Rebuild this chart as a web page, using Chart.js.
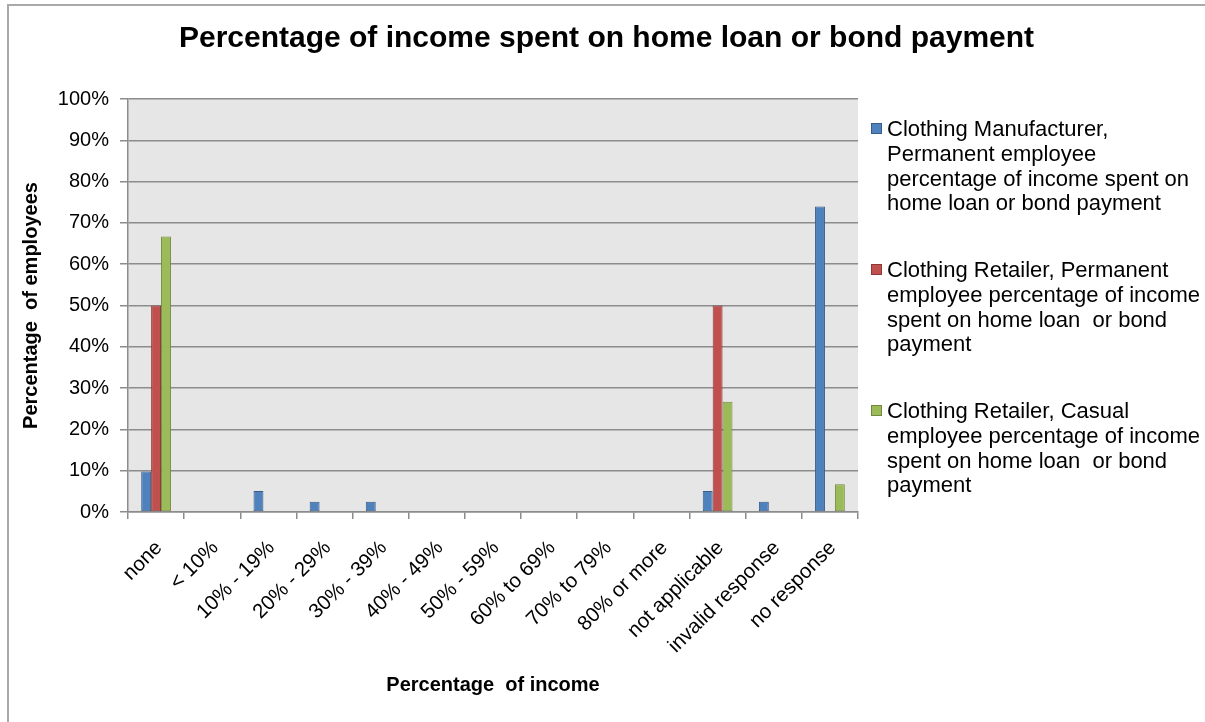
<!DOCTYPE html>
<html lang="en">
<head>
    <meta charset="UTF-8">
    <title>Percentage of income spent on home loan or bond payment</title>
    <script src="https://cdn.jsdelivr.net/npm/chart.js"></script>
    <style>
        html, body {
            margin: 0;
            padding: 0;
            background: #ffffff;
            overflow: hidden;
        }
        .frame {
            position: absolute;
            left: 7px;
            top: 4px;
            width: 1220px;
            height: 740px;
            border: 2px solid #a9a9a9;
        }
        #incomeChart {
            position: absolute;
            left: 0;
            top: 0;
        }
    </style>
</head>
<body>
    <div class="frame"></div>
    <canvas id="incomeChart" width="1205" height="722"></canvas>

    <script>
        // income brackets on the x axis
        const categories = [
            'none', '< 10%', '10% - 19%', '20% - 29%', '30% - 39%', '40% - 49%',
            '50% - 59%', '60% to 69%', '70% to 79%', '80% or more',
            'not applicable', 'invalid response', 'no response'
        ];

        // percentage of employees per bracket
        const manufacturerPermanent = [9.8, 0, 5.1, 2.5, 2.5, 0, 0, 0, 0, 0, 5.1, 2.5, 74];
        const retailerPermanent = [50, 0, 0, 0, 0, 0, 0, 0, 0, 0, 50, 0, 0];
        const retailerCasual = [66.7, 0, 0, 0, 0, 0, 0, 0, 0, 0, 26.7, 0, 6.7];

        // legend text, one entry per line
        const seriesNames = [
            ['Clothing Manufacturer,', 'Permanent employee', 'percentage of income spent on', 'home loan or bond payment'],
            ['Clothing Retailer, Permanent', 'employee percentage of income', 'spent on home loan  or bond', 'payment'],
            ['Clothing Retailer, Casual', 'employee percentage of income', 'spent on home loan  or bond', 'payment']
        ];

        const yTicks = [0, 10, 20, 30, 40, 50, 60, 70, 80, 90, 100];

        const chartTitle = 'Percentage of income spent on home loan or bond payment';

        const FONT = "'Liberation Sans', Arial, sans-serif";
        const gridColor = '#8c8c8c';

        const fills = ['#4f81bd', '#c0504d', '#9bbb59'];
        const edges = ['#385d8a', '#8c3836', '#71893f'];

        // grey plot background
        const plotBackground = {
            id: 'plotBackground',
            beforeDraw(chart) {
                const { ctx, chartArea } = chart;
                ctx.save();
                ctx.fillStyle = '#e6e6e6';
                ctx.fillRect(chartArea.left, chartArea.top,
                    chartArea.right - chartArea.left, chartArea.bottom - chartArea.top);
                ctx.restore();
            }
        };

        // title centred over the whole canvas, not just the plot
        const wideTitle = {
            id: 'wideTitle',
            afterDraw(chart) {
                const { ctx, width } = chart;
                ctx.save();
                ctx.font = 'bold 30px ' + FONT;
                ctx.fillStyle = '#000';
                ctx.textAlign = 'center';
                ctx.textBaseline = 'middle';
                ctx.fillText(chartTitle, width / 2 + 4, 39);
                ctx.restore();
            }
        };

        // legend on the right with wrapped lines
        const sideLegend = {
            id: 'sideLegend',
            afterDraw(chart) {
                const { ctx } = chart;
                const x = 871;
                const lineGap = 24.8;
                ctx.save();
                ctx.font = '22px ' + FONT;
                ctx.textBaseline = 'alphabetic';
                ctx.textAlign = 'left';
                chart.data.datasets.forEach((ds, i) => {
                    const base = 136 + i * 141;
                    ctx.fillStyle = ds.backgroundColor;
                    ctx.strokeStyle = ds.borderColor;
                    ctx.lineWidth = 1;
                    ctx.fillRect(x, base - 13, 11, 11);
                    ctx.strokeRect(x + 0.5, base - 12.5, 10, 10);
                    ctx.fillStyle = '#000';
                    seriesNames[i].forEach((line, j) => {
                        ctx.fillText(line, 887, base + j * lineGap);
                    });
                });
                ctx.restore();
            }
        };

        const ctx = document.getElementById('incomeChart').getContext('2d');
        new Chart(ctx, {
            type: 'bar',
            data: {
                labels: categories,
                datasets: [manufacturerPermanent, retailerPermanent, retailerCasual].map((values, i) => ({
                    label: seriesNames[i].join(' '),
                    data: values,
                    backgroundColor: fills[i],
                    borderColor: edges[i],
                    borderWidth: 1,
                    borderSkipped: false,
                    categoryPercentage: 0.53,
                    barPercentage: 1.0
                }))
            },
            options: {
                responsive: false,
                animation: false,
                layout: {
                    padding: { left: 10, right: 347, top: 99, bottom: 0 }
                },
                plugins: {
                    legend: { display: false },
                    tooltip: { enabled: false },
                    title: { display: false }
                },
                scales: {
                    x: {
                        afterFit(scale) { scale.height = 210; },
                        grid: {
                            display: true,
                            offset: true,
                            drawOnChartArea: false,
                            drawTicks: true,
                            tickLength: 7,
                            color: gridColor,
                            lineWidth: 1.5
                        },
                        border: { display: true, color: gridColor, width: 1.5 },
                        ticks: {
                            autoSkip: false,
                            minRotation: 45,
                            maxRotation: 45,
                            padding: 17,
                            labelOffset: 3,
                            color: '#000',
                            font: { family: FONT, size: 20.5 }
                        },
                        title: {
                            display: true,
                            text: 'Percentage  of income',
                            color: '#000',
                            font: { family: FONT, size: 20, weight: 'bold', lineHeight: 1.2 },
                            padding: { top: 0, bottom: 25 }
                        }
                    },
                    y: {
                        min: 0,
                        max: 100,
                        afterFit(scale) { scale.width = 118; },
                        afterBuildTicks(scale) {
                            scale.ticks = yTicks.map(v => ({ value: v }));
                        },
                        grid: {
                            color: gridColor,
                            lineWidth: 1.5,
                            drawTicks: true,
                            tickLength: 8
                        },
                        border: { display: true, color: gridColor, width: 1.5 },
                        ticks: {
                            padding: 11,
                            color: '#000',
                            font: { family: FONT, size: 20 },
                            callback: v => v + '%'
                        },
                        title: {
                            display: true,
                            text: 'Percentage  of employees',
                            color: '#000',
                            font: { family: FONT, size: 20, weight: 'bold', lineHeight: 1.2 },
                            padding: { top: 9, bottom: 0 }
                        }
                    }
                }
            },
            plugins: [plotBackground, wideTitle, sideLegend]
        });
    </script>
</body>
</html>
